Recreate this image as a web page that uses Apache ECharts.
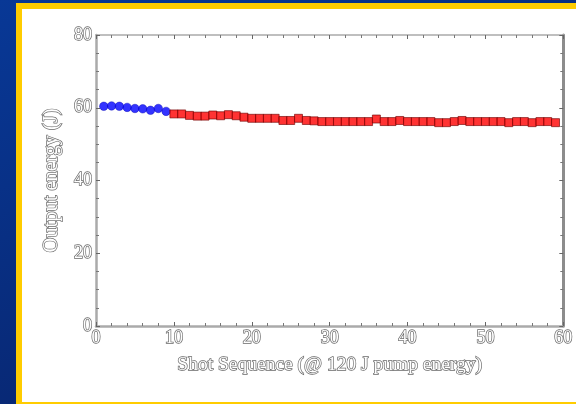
<!DOCTYPE html>
<html>
<head>
<meta charset="utf-8">
<script src="https://cdn.jsdelivr.net/npm/echarts@6/dist/echarts.min.js"></script>
<style>
  html, body { margin: 0; padding: 0; }
  #chart { width: 576px; height: 404px; }
</style>
</head>
<body>
<div id="chart"></div>
<script>
// Shot numbers and measured output energies (J)
const blueShots = [1, 2, 3, 4, 5, 6, 7, 8, 9];
const blueEnergy = [60.4, 60.5, 60.4, 60.1, 59.8, 59.7, 59.3, 59.8, 59.0];

const redShots = [10, 11, 12, 13, 14, 15, 16, 17, 18, 19,
                  20, 21, 22, 23, 24, 25, 26, 27, 28, 29,
                  30, 31, 32, 33, 34, 35, 36, 37, 38, 39,
                  40, 41, 42, 43, 44, 45, 46, 47, 48, 49,
                  50, 51, 52, 53, 54, 55, 56, 57, 58, 59];
const redEnergy = [58.3, 58.3, 57.9, 57.7, 57.7, 58.0, 57.8, 58.1, 57.8, 57.4,
                   57.1, 57.1, 57.1, 57.1, 56.5, 56.5, 57.1, 56.5, 56.4, 56.2,
                   56.2, 56.2, 56.2, 56.2, 56.2, 56.2, 56.9, 56.2, 56.2, 56.5,
                   56.2, 56.2, 56.2, 56.2, 55.9, 55.9, 56.2, 56.5, 56.2, 56.2,
                   56.2, 56.2, 56.2, 55.9, 56.2, 56.2, 55.9, 56.2, 56.2, 55.9];

const xTitle = 'Shot Sequence (@ 120 J pump energy)';
const yTitle = 'Output energy (J)';

const outlined = {
  color: '#ffffff',
  textBorderColor: '#6a6a6a',
  textBorderWidth: 1.4,
  fontFamily: 'Liberation Serif, DejaVu Serif, serif'
};

const chart = echarts.init(document.getElementById('chart'), null, { renderer: 'canvas' });

const axisGray = '#aaaaaa';

function xAxisBase(pos) {
  return {
    type: 'value', position: pos, min: 0, max: 60, interval: 10,
    axisLine: { show: true, onZero: false, lineStyle: { color: axisGray, width: pos === 'bottom' ? 2.5 : 1.5 } },
    axisTick: { show: true, inside: true, length: 4, lineStyle: { color: '#666', width: 1 } },
    minorTick: { show: true, splitNumber: 5, length: 3, lineStyle: { color: '#777', width: 1 } },
    splitLine: { show: false },
    axisLabel: pos === 'bottom'
      ? Object.assign({ show: true, fontSize: 18, margin: 3 }, outlined)
      : { show: false }
  };
}

function yAxisBase(pos) {
  return {
    type: 'value', position: pos, min: 0, max: 80, interval: 20,
    axisLine: { show: true, onZero: false, lineStyle: { color: pos === 'left' ? axisGray : '#8c8c8c', width: pos === 'left' ? 2.5 : 3 } },
    axisTick: { show: true, inside: true, length: 4, lineStyle: { color: '#666', width: 1 } },
    minorTick: { show: true, splitNumber: 4, length: 3, lineStyle: { color: '#777', width: 1 } },
    splitLine: { show: false },
    axisLabel: pos === 'left'
      ? Object.assign({ show: true, fontSize: 18, margin: 4 }, outlined)
      : { show: false }
  };
}

const bottomX = xAxisBase('bottom');
bottomX.name = xTitle;
bottomX.nameLocation = 'middle';
bottomX.nameGap = 29;
bottomX.nameTextStyle = Object.assign({ fontSize: 19.5 }, outlined);

const leftY = yAxisBase('left');
leftY.name = yTitle;
leftY.nameLocation = 'middle';
leftY.nameGap = 33;
leftY.nameRotate = 90;
leftY.nameTextStyle = Object.assign({ fontSize: 20.5 }, outlined);

chart.setOption({
  animation: false,
  backgroundColor: 'transparent',
  graphic: [
    {
      type: 'rect', z: -10, silent: true,
      shape: { x: 0, y: 0, width: 576, height: 404 },
      style: {
        fill: new echarts.graphic.LinearGradient(0, 0, 0.3, 1, [
          { offset: 0, color: '#083896' },
          { offset: 1, color: '#082670' }
        ])
      }
    },
    {
      type: 'rect', z: -9, silent: true,
      shape: { x: 16, y: 3, width: 580, height: 410 },
      style: { fill: '#ffcc00' }
    },
    {
      type: 'rect', z: -8, silent: true,
      shape: { x: 22, y: 9, width: 570, height: 393 },
      style: { fill: '#ffffff' }
    }
  ],
  grid: { left: 96, top: 35, right: 11, bottom: 78, containLabel: false },
  xAxis: [bottomX, xAxisBase('top')],
  yAxis: [leftY, yAxisBase('right')],
  series: [
    {
      type: 'scatter',
      symbol: 'circle',
      symbolSize: 8.5,
      data: blueShots.map((x, i) => [x, blueEnergy[i]]),
      itemStyle: { color: '#0000ff', borderColor: '#0000b0', borderWidth: 0.5 }
    },
    {
      type: 'scatter',
      symbol: 'rect',
      symbolSize: 8,
      data: redShots.map((x, i) => [x, redEnergy[i]]),
      itemStyle: { color: '#ff0000', borderColor: '#700000', borderWidth: 0.8 }
    }
  ]
});
</script>
</body>
</html>
